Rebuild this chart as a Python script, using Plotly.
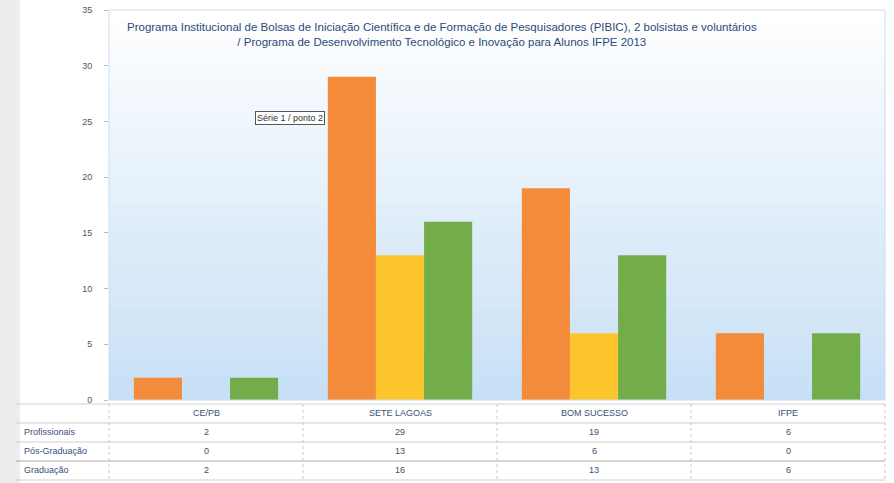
import plotly.graph_objects as go

categories = ["CE/PB", "SETE LAGOAS", "BOM SUCESSO", "IFPE"]
series_names = ["Profissionais", "Pós-Graduação", "Graduação"]
profissionais = [2, 29, 19, 6]
pos_graduacao = [0, 13, 6, 0]
graduacao = [2, 16, 13, 6]
y_ticks = [0, 5, 10, 15, 20, 25, 30, 35]
title_lines = [
    "Programa Institucional de Bolsas de Iniciação Científica e de Formação de Pesquisadores (PIBIC), 2 bolsistas e voluntários",
    "/ Programa de Desenvolvimento Tecnológico e Inovação para Alunos IFPE 2013",
]
note_text = "Série 1 / ponto 2"

colors = ["#F38B3B", "#FCC52C", "#72AD49"]
series_values = [profissionais, pos_graduacao, graduacao]

W, H = 894, 483
L, R, T, B = 109, 9, 10, 83
pw, ph = W - L - R, H - T - B

fig = go.Figure()
for name, vals, c in zip(series_names, series_values, colors):
    fig.add_trace(go.Bar(x=categories, y=vals, name=name, marker=dict(color=c, line=dict(width=0))))

shapes = []
n = 30
for i in range(n):
    t = i / (n - 1)
    r = int(255 + (200 - 255) * (1 - t))
    g = int(255 + (224 - 255) * (1 - t))
    b = int(255 + (246 - 255) * (1 - t))
    shapes.append(dict(type="rect", xref="paper", yref="paper", x0=0, x1=1,
                       y0=i / n, y1=(i + 1) / n, fillcolor=f"rgb({r},{g},{b})",
                       line=dict(width=0), layer="below"))
shapes.append(dict(type="rect", xref="paper", yref="paper", x0=0, x1=1, y0=0, y1=1,
                   line=dict(color="#C9DDF0", width=1), layer="above"))
shapes.append(dict(type="rect", xref="paper", yref="paper", x0=-L / pw, x1=(-L + 20) / pw,
                   y0=-B / ph, y1=1 + T / ph, fillcolor="#EDEDED", line=dict(width=0), layer="below"))

def py(pix):
    return (H - B - pix) / ph

def px(pix):
    return (pix - L) / pw

row_lines = [404, 423, 442, 461, 480]
for yp in row_lines:
    shapes.append(dict(type="line", xref="paper", yref="paper", x0=px(16), x1=1,
                       y0=py(yp), y1=py(yp),
                       line=dict(color="#A8A8A8" if yp == 461 else "#D0D0D0", width=1)))
for k in range(len(categories) + 1):
    shapes.append(dict(type="line", xref="paper", yref="paper", x0=k / len(categories),
                       x1=k / len(categories), y0=py(404), y1=py(480),
                       line=dict(color="#C8C8C8", width=1, dash="dot")))

annotations = []
annotations.append(dict(text="<br>".join(title_lines), xref="paper", yref="paper", x=px(442), y=py(19),
                        yanchor="top", xanchor="center", showarrow=False,
                        font=dict(size=11.5, color="#2B4A7A", family="Liberation Sans")))
annotations.append(dict(text=note_text, xref="paper", yref="paper", x=px(255), y=py(118),
                        xanchor="left", yanchor="middle", showarrow=False,
                        bordercolor="#555555", borderwidth=1, bgcolor="white",
                        font=dict(size=9, color="#333333")))
row_centers = [432, 451, 470]
for cat in categories:
    annotations.append(dict(text=cat, xref="x", yref="paper", x=cat, y=py(413), showarrow=False,
                            xanchor="center", yanchor="middle",
                            font=dict(size=9, color="#3A4F7A")))
for name, vals, yc in zip(series_names, series_values, row_centers):
    annotations.append(dict(text=name, xref="paper", yref="paper", x=px(22), y=py(yc),
                            xanchor="left", yanchor="middle", showarrow=False,
                            font=dict(size=9, color="#3A4F7A")))
    for cat, v in zip(categories, vals):
        annotations.append(dict(text=str(v), xref="x", yref="paper", x=cat, y=py(yc), showarrow=False,
                                xanchor="center", yanchor="middle",
                                font=dict(size=9, color="#3A4F7A")))

fig.update_layout(
    width=W, height=H,
    margin=dict(l=L, r=R, t=T, b=B, autoexpand=False),
    barmode="group", bargap=0.256, bargroupgap=0,
    paper_bgcolor="white", plot_bgcolor="rgba(0,0,0,0)",
    showlegend=False,
    shapes=shapes, annotations=annotations,
    font=dict(family="Liberation Sans", color="#555555"),
    xaxis=dict(showticklabels=False, showgrid=False, zeroline=False, showline=False, automargin=False),
    yaxis=dict(range=[0, 35], tickvals=y_ticks, showgrid=False, zeroline=False, automargin=False,
               ticks="outside", ticklen=4, tickcolor="#BBBBBB", tickfont=dict(size=9, color="#555555"),
               ticklabelstandoff=10, showline=False),
)

fig.write_html("out.html", config={"displayModeBar": False},
               post_script="document.body.style.margin='0';document.body.style.overflow='hidden';")
